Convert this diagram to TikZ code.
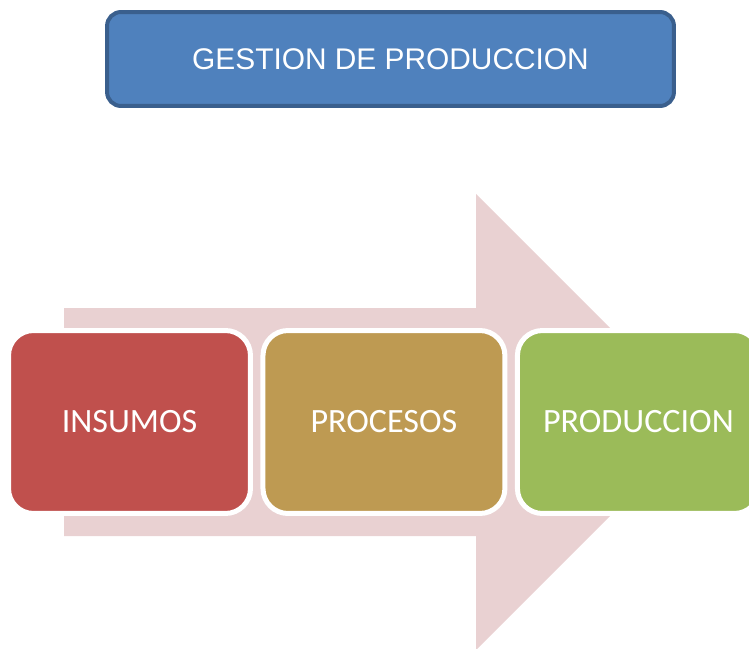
\documentclass[tikz,border=0pt]{standalone}
\usepackage{fontspec}
\setsansfont{Liberation Sans}
\newfontfamily\stagefont{Carlito}
\usepackage{tikz}
\usetikzlibrary{positioning}
\definecolor{tblue}{HTML}{4F81BD}
\definecolor{tnavy}{HTML}{3A5F8D}
\definecolor{sred}{HTML}{C0504D}
\definecolor{sgold}{HTML}{BE9A52}
\definecolor{sgreen}{HTML}{9BBB59}
\definecolor{flowpink}{HTML}{E9D1D2}
\tikzset{
  titlebox/.style={
    draw=tnavy, fill=tblue, line width=0.08cm, rounded corners=0.28cm,
    minimum width=11.34cm, minimum height=1.88cm, text=white,
    font=\fontsize{17}{20}\sffamily
  },
  stagebox/.style={
    draw=white, fill=#1, line width=0.1cm, rounded corners=0.5cm,
    minimum width=4.84cm, minimum height=3.66cm, outer sep=0pt,
    text=white, font=\fontsize{19.4}{23}\stagefont
  },
  flow/.style={fill=flowpink, draw=none}
}
\begin{document}
\begin{tikzpicture}[x=0.02cm,y=-0.02cm]
  \useasboundingbox (0,0) rectangle (749,648);
  % big arrow behind the stages
  \fill[flow] (64,308) -- (476,308) -- (476,194) -- (704,422)
    -- (476,650) -- (476,536) -- (64,536) -- cycle;
  \node[titlebox] (title) at (390.5,59) {GESTION DE PRODUCCION};
  \node[stagebox=sred] (insumos) at (129.5,422) {INSUMOS};
  \node[stagebox=sgold, right=0.25cm of insumos] (procesos) {PROCESOS};
  \node[stagebox=sgreen, right=0.25cm of procesos] (produccion) {PRODUCCION};
\end{tikzpicture}
\end{document}
